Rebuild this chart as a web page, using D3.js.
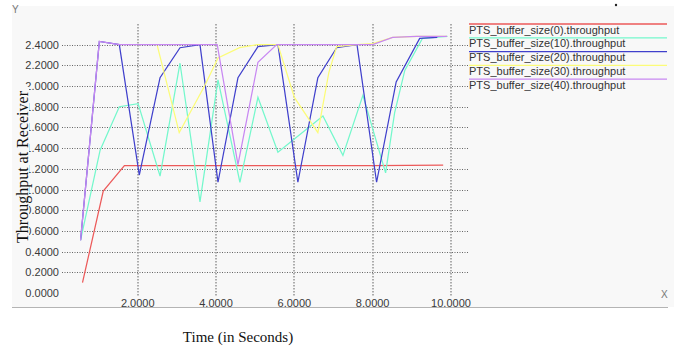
<!DOCTYPE html>
<html>
<head>
<meta charset="utf-8">
<script src="https://cdn.jsdelivr.net/npm/d3@7"></script>
<style>
  body { margin: 0; background: #fff; }
  svg { display: block; }
</style>
</head>
<body>
<div id="chart"></div>
<script>
// series values, [time, throughput]
const buf0 = [[0.59,0.10],[1.12,0.985],[1.66,1.23],[8.0,1.23],[9.8,1.235]];
const buf10 = [[0.54,0.51],[1.04,1.38],[1.53,1.80],[2.01,1.83],[2.57,1.13],[3.08,2.22],[3.59,0.88],[4.05,2.06],[4.61,1.07],[5.07,1.89],[5.58,1.36],[6.73,1.71],[7.24,1.33],[7.75,1.91],[8.33,1.16],[8.56,1.74],[8.82,2.15],[9.27,2.46],[9.91,2.48]];
const buf20 = [[0.54,0.51],[1.02,2.43],[1.53,2.40],[2.04,1.14],[2.57,2.08],[3.08,2.37],[3.59,2.40],[4.05,1.07],[4.56,2.08],[5.07,2.38],[5.58,2.40],[6.09,1.07],[6.60,2.08],[7.08,2.37],[7.60,2.40],[8.10,1.07],[8.60,2.04],[9.20,2.46],[9.65,2.47]];
const buf30 = [[2.50,2.39],[3.06,1.55],[3.72,2.01],[4.05,2.27],[4.60,2.37],[5.05,2.40],[5.58,2.40],[6.00,1.89],[6.60,1.55],[6.88,2.13],[7.08,2.38],[7.60,2.40],[8.0,2.41],[8.51,2.47],[9.12,2.48],[9.9,2.48]];
const buf40 = [[0.54,0.51],[1.02,2.43],[1.53,2.40],[4.03,2.40],[4.56,1.24],[5.07,2.23],[5.55,2.40],[8.0,2.40],[8.51,2.47],[9.12,2.48],[9.9,2.48]];

const seriesNames = ["PTS_buffer_size(0).throughput", "PTS_buffer_size(10).throughput",
  "PTS_buffer_size(20).throughput", "PTS_buffer_size(30).throughput", "PTS_buffer_size(40).throughput"];
const seriesColors = ["#ec5a5a", "#74f8cc", "#4040cc", "#fcfc78", "#c888f2"];
const xTicks = [2, 4, 6, 8, 10];
const yTicks = [0, 0.2, 0.4, 0.6, 0.8, 1.0, 1.2, 1.4, 1.6, 1.8, 2.0, 2.2, 2.4];

const width = 674, height = 349;
const series = [buf0, buf10, buf20, buf30, buf40];

let svg = d3.select("#chart").append("svg")
    .attr("width", width)
    .attr("height", height);

// panel background
svg.append("rect")
    .attr("x", 12).attr("y", 6)
    .attr("width", 662).attr("height", 301)
    .attr("fill", "#f8f8f8");
svg.append("line")
    .attr("x1", 12).attr("x2", 668)
    .attr("y1", 307.5).attr("y2", 307.5)
    .attr("stroke", "#b4b4b4");

let x = d3.scaleLinear().domain([0, 10]).range([59.4, 451]);
let y = d3.scaleLinear().domain([0, 2.4]).range([293, 44.6]);

// horizontal grid (no line at 0)
svg.append("g")
    .selectAll("line")
    .data(yTicks.filter(d => d > 0))
    .enter()
    .append("line")
    .attr("x1", 62).attr("x2", 468)
    .attr("y1", d => Math.round(y(d)) + 0.5)
    .attr("y2", d => Math.round(y(d)) + 0.5)
    .attr("stroke", "#666")
    .attr("stroke-dasharray", "1,1.5");

// vertical grid
svg.append("g")
    .selectAll("line")
    .data(xTicks)
    .enter()
    .append("line")
    .attr("x1", d => Math.round(x(d)))
    .attr("x2", d => Math.round(x(d)))
    .attr("y1", 24).attr("y2", 296)
    .attr("stroke", "#999")
    .attr("stroke-width", 1.6)
    .attr("stroke-dasharray", "1.5,1.5");

// tick labels
svg.append("g")
    .selectAll("text")
    .data(yTicks)
    .enter()
    .append("text")
    .attr("x", 59)
    .attr("y", d => y(d) + 4)
    .attr("text-anchor", "end")
    .attr("font-family", "Liberation Sans, Arial, sans-serif")
    .attr("font-size", 11)
    .attr("fill", "#3a3a3a")
    .text(d => d3.format(".4f")(d));

svg.append("g")
    .selectAll("text")
    .data(xTicks)
    .enter()
    .append("text")
    .attr("x", d => x(d))
    .attr("y", 307)
    .attr("text-anchor", "middle")
    .attr("font-family", "Liberation Sans, Arial, sans-serif")
    .attr("font-size", 11)
    .attr("fill", "#3a3a3a")
    .text(d => d3.format(".4f")(d));

// lines
let line = d3.line().x(d => x(d[0])).y(d => y(d[1]));
svg.append("g")
    .selectAll("path")
    .data(series)
    .enter()
    .append("path")
    .attr("d", line)
    .attr("fill", "none")
    .attr("stroke", (d, i) => seriesColors[i])
    .attr("stroke-width", 1.25);

// legend
let legend = svg.append("g")
    .selectAll("g")
    .data(seriesNames)
    .enter()
    .append("g")
    .attr("transform", (d, i) => `translate(469, ${24 + i * 13.8})`);
legend.append("line")
    .attr("x1", 0).attr("x2", 198)
    .attr("y1", 0).attr("y2", 0)
    .attr("stroke", (d, i) => seriesColors[i])
    .attr("stroke-width", 1.3);
legend.append("text")
    .attr("x", 0).attr("y", 9.5)
    .attr("font-family", "Liberation Sans, Arial, sans-serif")
    .attr("font-size", 11)
    .attr("fill", "#333")
    .text(d => d);

// axis letters
svg.append("text").attr("x", 12).attr("y", 13)
    .attr("font-family", "Liberation Sans, Arial, sans-serif")
    .attr("font-size", 10).attr("fill", "#777").text("Y");
svg.append("text").attr("x", 661).attr("y", 298)
    .attr("font-family", "Liberation Sans, Arial, sans-serif")
    .attr("font-size", 10).attr("fill", "#777").text("X");
svg.append("circle").attr("cx", 616).attr("cy", 5).attr("r", 1.2).attr("fill", "#222");

// y title, its box hides the leading digits of the labels
svg.append("rect")
    .attr("x", 14).attr("y", 87)
    .attr("width", 15).attr("height", 160)
    .attr("fill", "#f8f8f8");
svg.append("text")
    .attr("transform", "translate(28, 167) rotate(-90)")
    .attr("text-anchor", "middle")
    .attr("font-family", "Liberation Serif, Times New Roman, serif")
    .attr("font-size", 16)
    .attr("fill", "#111")
    .text("Throughput at Receiver");

svg.append("text")
    .attr("x", 238).attr("y", 342)
    .attr("text-anchor", "middle")
    .attr("font-family", "Liberation Serif, Times New Roman, serif")
    .attr("font-size", 15)
    .attr("fill", "#111")
    .text("Time (in Seconds)");
</script>
</body>
</html>
